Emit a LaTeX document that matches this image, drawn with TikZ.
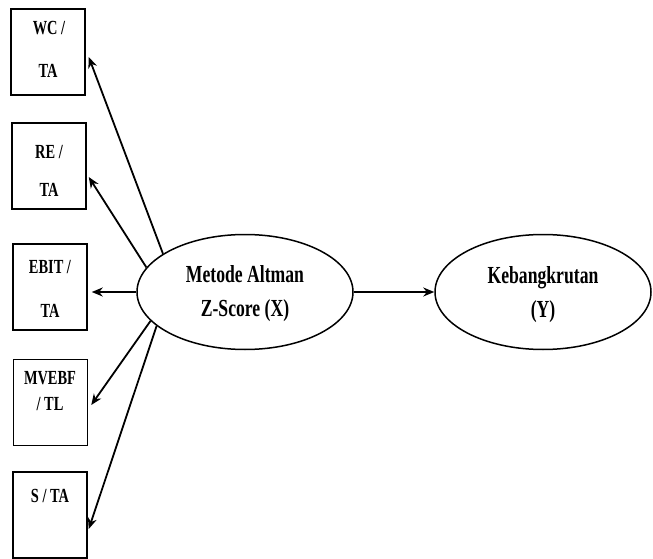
\documentclass[tikz,border=0pt]{standalone}
\usepackage{fontspec}
\setmainfont[FakeStretch=0.72]{Liberation Serif}
\usetikzlibrary{shapes.geometric,arrows.meta,calc}
\tikzset{
  boxnode/.style={draw,line width=1.5pt,minimum width=74pt,minimum height=86pt,inner sep=0pt},
  ellnode/.style={draw,ellipse,line width=1.5pt,minimum width=216pt,minimum height=115pt,inner sep=0pt},
  boxtxt/.style={anchor=base,inner sep=0pt,font=\fontsize{20}{20}\selectfont\bfseries},
  elltxt/.style={anchor=base,inner sep=0pt,font=\fontsize{24.5}{26}\selectfont\bfseries},
  arr/.style={line width=1.8pt,-{Stealth[length=11pt,width=9pt]}}
}
\begin{document}
\begin{tikzpicture}[x=1pt,y=-1pt]
\useasboundingbox (0,0) rectangle (653,559);
% boxes
\node[boxnode] (b1) at (48,52) {};
\node[boxnode] (b2) at (49,166) {};
\node[boxnode] (b3) at (50,287) {};
\node[boxnode] (b4) at (50.5,402.5) {};
\node[boxnode] (b5) at (50,515) {};
% box texts
\node[boxtxt] (t1a) at (49,35) {WC /};
\node[boxtxt] (t1b) at (48,78) {TA};
\node[boxtxt] (t2a) at (49,158) {RE /};
\node[boxtxt] (t2b) at (49,196) {TA};
\node[boxtxt] (t3a) at (50,273) {EBIT /};
\node[boxtxt] (t3b) at (50,317) {TA};
\node[boxtxt] (t4a) at (50,384) {MVEBF};
\node[boxtxt] (t4b) at (50,410) {/ TL};
\node[boxtxt] (t5a) at (50,502) {S / TA};
% ellipses
\node[ellnode] (e1) at (245,292) {};
\node[ellnode] (e2) at (543,292) {};
\node[elltxt] (x1) at (245,282) {Metode Altman};
\node[elltxt] (x2) at (245,316) {Z-Score (X)};
\node[elltxt] (y1) at (543,283) {Kebangkrutan};
\node[elltxt] (y2) at (543,317) {(Y)};
% arrows
\draw[arr] (e1.155.9) -- ([shift={(3,5)}]b1.east);
\draw[arr] (e1.166.1) -- ([shift={(2,11)}]b2.east);
\draw[arr] (e1.west) -- ([shift={(4,5)}]b3.east);
\draw[arr] (e1.197.9) -- ([shift={(3,2.5)}]b4.east);
\draw[arr] (e1.201.9) -- ([shift={(1,14)}]b5.east);
\draw[arr] (e1.east) -- (e2.west);
\end{tikzpicture}
\end{document}
